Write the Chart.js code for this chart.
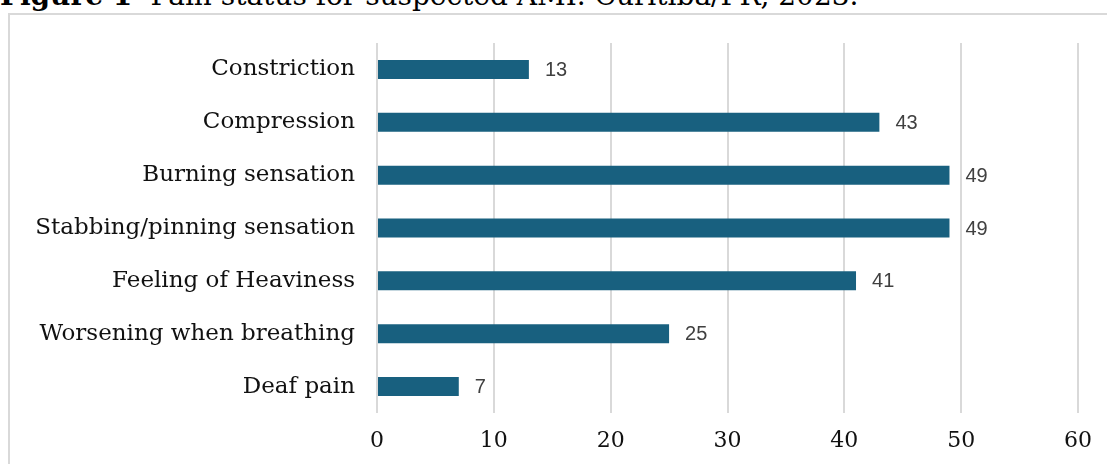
<!DOCTYPE html>
<html>
<head>
<meta charset="utf-8">
<script src="https://cdn.jsdelivr.net/npm/chart.js@4/dist/chart.umd.min.js"></script>
<style>
  html, body { margin: 0; padding: 0; background: #fff; overflow: hidden; }
  body { width: 1107px; height: 464px; position: relative; }
  #title {
    position: absolute; left: 0; top: -21px; white-space: nowrap; line-height: 1.2;
    font-family: "DejaVu Serif", serif; font-size: 28px; color: #000;
  }
  #title span { font-weight: normal; }
  #frame {
    position: absolute; left: 8px; top: 13px; width: 1120px; height: 480px;
    border: 2px solid #d9d9d9; box-sizing: border-box;
  }
  #wrap { position: absolute; left: 0; top: 0; width: 1107px; height: 464px; }
</style>
</head>
<body>
<div id="title"><b>Figure 1</b><span>- Pain status for suspected AMI. Curitiba/PR, 2023.</span></div>
<div id="frame"></div>
<div id="wrap"><canvas id="pain-chart"></canvas></div>
<script>
const categories = [
  "Constriction",
  "Compression",
  "Burning sensation",
  "Stabbing/pinning sensation",
  "Feeling of Heaviness",
  "Worsening when breathing",
  "Deaf pain",
];
const counts = [13, 43, 49, 49, 41, 25, 7];
const xTicks = [0, 10, 20, 30, 40, 50, 60];

const barColor = "#18607f";
const gridColor = "#d9d9d9";

// value labels at the end of each bar
const valueLabels = {
  id: "valueLabels",
  afterDatasetsDraw(chart) {
    const ctx = chart.ctx;
    const meta = chart.getDatasetMeta(0);
    ctx.save();
    ctx.font = '20px "Liberation Sans", Arial, sans-serif';
    ctx.fillStyle = "#404040";
    ctx.textBaseline = "middle";
    ctx.textAlign = "left";
    meta.data.forEach((bar, i) => {
      ctx.fillText(String(counts[i]), bar.x + 16, bar.y + 1);
    });
    ctx.restore();
  },
};

const ctx = document.getElementById("pain-chart").getContext("2d");

const painChart = new Chart(ctx, {
  type: "bar",
  data: {
    labels: categories,
    datasets: [
      {
        data: counts,
        backgroundColor: barColor,
        borderWidth: 0,
        barPercentage: 0.36,
        categoryPercentage: 1,
      },
    ],
  },
  options: {
    indexAxis: "y",
    responsive: true,
    maintainAspectRatio: false,
    animation: false,
    layout: { padding: { top: 43, right: 29, left: 0, bottom: 0 } },
    plugins: {
      legend: { display: false },
      tooltip: { enabled: false },
    },
    scales: {
      x: {
        min: 0,
        max: 60,
        afterBuildTicks: (axis) => {
          axis.ticks = xTicks.map(v => ({ value: v }));
        },
        afterFit: (axis) => { axis.height = 51; },
        grid: { color: gridColor, lineWidth: 2, drawTicks: false },
        border: { display: false },
        ticks: {
          padding: 15,
          color: "#111",
          font: { family: '"DejaVu Serif", serif', size: 22 },
        },
      },
      y: {
        afterFit: (axis) => { axis.width = 377; },
        grid: { display: false, drawTicks: false },
        border: { display: false },
        ticks: {
          padding: 22,
          color: "#111",
          font: { family: '"DejaVu Serif", serif', size: 23 },
        },
      },
    },
  },
  plugins: [valueLabels],
});
</script>
</body>
</html>
